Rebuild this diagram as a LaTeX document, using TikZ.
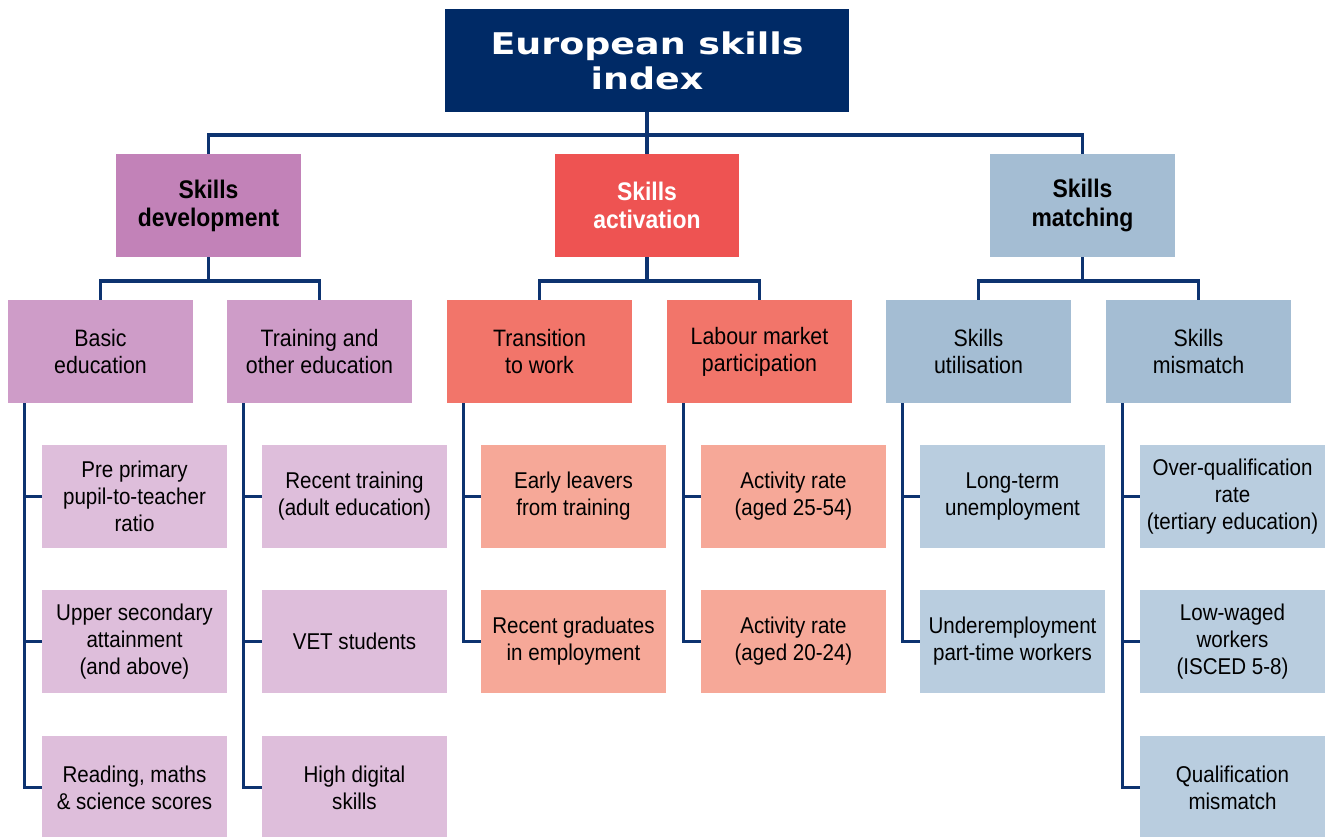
\documentclass[tikz,border=0pt]{standalone}
\usepackage{fontspec}
\setmainfont{Liberation Sans}[FakeStretch=0.9]
\newfontfamily\titlefont{DejaVu Sans}[FakeStretch=1.22]
\usepackage{xcolor}
\usetikzlibrary{calc}

\definecolor{indexnavy}{HTML}{002A66}
\definecolor{linknavy}{HTML}{0D3370}
\definecolor{devA}{HTML}{C282B8}
\definecolor{devB}{HTML}{CE9CC8}
\definecolor{devC}{HTML}{DEBEDB}
\definecolor{actA}{HTML}{EE5352}
\definecolor{actB}{HTML}{F2756A}
\definecolor{actC}{HTML}{F6A898}
\definecolor{matA}{HTML}{A4BDD3}
\definecolor{matB}{HTML}{A4BDD3}
\definecolor{matC}{HTML}{B9CDDF}

\tikzset{
    box/.style={rectangle, inner sep=2pt, align=center,
        minimum width=3.7cm, minimum height=2.06cm},
    indexbox/.style={box, fill=indexnavy, text=white, minimum width=8.08cm,
        font=\titlefont\bfseries\fontsize{17}{20}\selectfont},
    pillar/.style={box, font=\bfseries\fontsize{14.5}{16}\selectfont},
    area/.style={box, font=\fontsize{13.5}{15.5}\selectfont},
    indicator/.style={box, font=\fontsize{13}{15.3}\selectfont},
    link/.style={draw=linknavy, line width=2pt}
}

\begin{document}
\begin{tikzpicture}[x=0.02cm, y=-0.02cm]

    \useasboundingbox (0,0) rectangle (1326,837);

    % =================================================================
    % INDEX AND PILLARS
    % =================================================================
    \node[indexbox] (esi) at (647,60.5) {European skills\\index};

    \node[pillar, fill=devA] (dev) at (208.5,205.5) {Skills\\development};
    \node[pillar, fill=actA, text=white] (act) at (647,205.5) {Skills\\activation};
    \node[pillar, fill=matA] (mat) at (1082.5,205.5) {Skills\\matching};

    % Bus line under the index
    \coordinate (bus) at (647,135);
    \draw[link] (esi.south) -- (act.north);
    \draw[link] (dev.north) |- (bus) -| (mat.north);

    % =================================================================
    % SUB-PILLARS
    % =================================================================
    \node[area, fill=devB] (basic) at (100.5,351.5) {Basic\\education};
    \node[area, fill=devB] (train) at (319.5,351.5) {Training and\\other education};
    \node[area, fill=actB] (trans) at (539.5,351.5) {Transition\\to work};
    \node[area, fill=actB] (labour) at (759.5,351.5) {Labour market\\participation};
    \node[area, fill=matB] (util) at (978.5,351.5) {Skills\\utilisation};
    \node[area, fill=matB] (mism) at (1198.5,351.5) {Skills\\mismatch};

    \coordinate (devbus) at (208.5,281);
    \coordinate (actbus) at (647,281);
    \coordinate (matbus) at (1082.5,281);

    \draw[link] (dev.south) -- (devbus);
    \draw[link] (basic.north) |- (devbus) -| (train.north);
    \draw[link] (act.south) -- (actbus);
    \draw[link] (trans.north) |- (actbus) -| (labour.north);
    \draw[link] (mat.south) -- (matbus);
    \draw[link] (util.north) |- (matbus) -| (mism.north);

    % =================================================================
    % INDICATORS
    % =================================================================
    % Basic education
    \node[indicator, fill=devC] (prepri) at (134.5,496.5) {Pre primary\\pupil-to-teacher\\ratio};
    \node[indicator, fill=devC] (upsec) at (134.5,641.5) {Upper secondary\\attainment\\(and above)};
    \node[indicator, fill=devC] (scores) at (134.5,787.5) {Reading, maths\\\& science scores};

    % Training and other education
    \node[indicator, fill=devC] (recent) at (354.5,496.5) {Recent training\\(adult education)};
    \node[indicator, fill=devC] (vet) at (354.5,641.5) {VET students};
    \node[indicator, fill=devC] (digital) at (354.5,787.5) {High digital\\skills};

    % Transition to work
    \node[indicator, fill=actC] (early) at (573.5,496.5) {Early leavers\\from training};
    \node[indicator, fill=actC] (grads) at (573.5,641.5) {Recent graduates\\in employment};

    % Labour market participation
    \node[indicator, fill=actC] (rateA) at (793.5,496.5) {Activity rate\\(aged 25-54)};
    \node[indicator, fill=actC] (rateB) at (793.5,641.5) {Activity rate\\(aged 20-24)};

    % Skills utilisation
    \node[indicator, fill=matC] (longterm) at (1012.5,496.5) {Long-term\\unemployment};
    \node[indicator, fill=matC] (underemp) at (1012.5,641.5) {Underemployment\\part-time workers};

    % Skills mismatch
    \node[indicator, fill=matC] (overq) at (1232.5,496.5) {Over-qualification\\rate\\(tertiary education)};
    \node[indicator, fill=matC] (lowwage) at (1232.5,641.5) {Low-waged\\workers\\(ISCED 5-8)};
    \node[indicator, fill=matC] (qualmis) at (1232.5,787.5) {Qualification\\mismatch};

    % Spines
    \draw[link] ([xshift=0.34cm]basic.south west) |- (prepri.west);
    \draw[link] ([xshift=0.34cm]basic.south west) |- (upsec.west);
    \draw[link] ([xshift=0.34cm]basic.south west) |- (scores.west);

    \draw[link] ([xshift=0.34cm]train.south west) |- (recent.west);
    \draw[link] ([xshift=0.34cm]train.south west) |- (vet.west);
    \draw[link] ([xshift=0.34cm]train.south west) |- (digital.west);

    \draw[link] ([xshift=0.34cm]trans.south west) |- (early.west);
    \draw[link] ([xshift=0.34cm]trans.south west) |- (grads.west);

    \draw[link] ([xshift=0.34cm]labour.south west) |- (rateA.west);
    \draw[link] ([xshift=0.34cm]labour.south west) |- (rateB.west);

    \draw[link] ([xshift=0.34cm]util.south west) |- (longterm.west);
    \draw[link] ([xshift=0.34cm]util.south west) |- (underemp.west);

    \draw[link] ([xshift=0.34cm]mism.south west) |- (overq.west);
    \draw[link] ([xshift=0.34cm]mism.south west) |- (lowwage.west);
    \draw[link] ([xshift=0.34cm]mism.south west) |- (qualmis.west);

\end{tikzpicture}
\end{document}
